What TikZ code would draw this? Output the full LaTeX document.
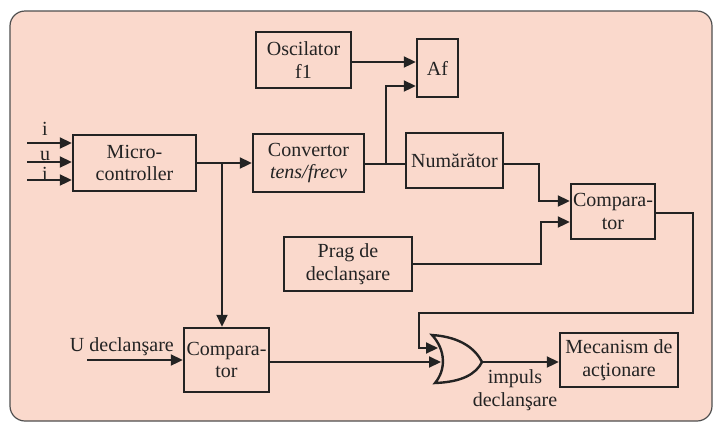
\documentclass[tikz,border=0pt]{standalone}
\usepackage{fontspec}
\setmainfont{Liberation Serif}
\usetikzlibrary{arrows.meta}
\definecolor{bgfill}{RGB}{250,217,204}
\definecolor{ink}{RGB}{35,35,35}
\begin{document}
\begin{tikzpicture}[x=1pt,y=-1pt,
  blk/.style={draw=ink,line width=2.4pt,fill=bgfill,inner sep=0pt,align=center,
    font=\fontsize{20}{22.5}\selectfont,text=ink},
  lbl/.style={inner sep=0pt,align=center,font=\fontsize{20}{22.5}\selectfont,text=ink},
  wire/.style={draw=ink,line width=2pt},
  arr/.style={wire,-{Triangle[length=12pt,width=11pt]}}]
\useasboundingbox (0,0) rectangle (719,424);
\draw[draw=ink!80,line width=1.2pt,fill=bgfill,rounded corners=15pt] (10,11) rectangle (712,421);
% blocks
\node[blk,minimum width=123pt,minimum height=56pt] (micro) at (134.5,163) {Micro-\\controller};
\node[blk,minimum width=111pt,minimum height=58pt] (conv) at (308.5,163) {Convertor\\\textit{tens/frecv}};
\node[blk,minimum width=95pt,minimum height=56pt] (osc) at (303.5,60) {Oscilator\\f1};
\node[blk,minimum width=41pt,minimum height=58pt] (af) at (437.5,68) {Af};
\node[blk,minimum width=97pt,minimum height=55pt] (num) at (454.5,160.5) {Numărător};
\node[blk,minimum width=84pt,minimum height=55pt] (compa) at (613,211.5) {Compara-\\tor};
\node[blk,minimum width=128pt,minimum height=54pt] (prag) at (348,264) {Prag de\\declanşare};
\node[blk,minimum width=85pt,minimum height=64pt] (compb) at (226.5,360) {Compara-\\tor};
\node[blk,minimum width=118pt,minimum height=54pt] (mec) at (619,360) {Mecanism de\\acţionare};
% OR gate
\draw[draw=ink,line width=2.4pt,fill=bgfill]
  (432,335) .. controls (446,350) and (446,370) .. (435,383)
  .. controls (462,382) and (476,374) .. (482,362)
  .. controls (476,350) and (462,337) .. (432,335) -- cycle;
\coordinate (orout) at (482,362);
\coordinate (orin1) at (438,348);
\coordinate (orin2) at (441,362);
% input labels and arrows
\coordinate (ia) at (27,143);
\coordinate (ib) at (27,162);
\coordinate (ic) at (27,180);
\node[lbl] (li) at (45,129) {i};
\node[lbl] (lu) at (45,156) {u};
\node[lbl] (lj) at (45,174) {i};
\draw[arr] (ia) -- (ia -| micro.west);
\draw[arr] (ib) -- (ib -| micro.west);
\draw[arr] (ic) -- (ic -| micro.west);
% micro -> convertor, branch down to comparator 2
\coordinate (br1) at (222,163);
\draw[arr] (micro.east) -- (conv.west);
\draw[arr] (br1) -- (br1 |- compb.north);
% convertor -> numarator, branch to Af
\coordinate (y164) at (0,164);
\coordinate (br2) at (386,164);
\draw[wire] (conv.east |- y164) -- (num.west |- y164);
\draw[arr] (br2) -- (386,86) -- (af.west |- {(0,86)});
% oscilator -> Af
\draw[arr] (osc.east |- {(0,62)}) -- (af.west |- {(0,62)});
% numarator -> comparator 1
\draw[arr] (num.east |- y164) -- (539,164) -- (539,201) -- (compa.west |- {(0,201)});
% prag -> comparator 1
\draw[arr] (prag.east) -- (541,264) -- (541,222) -- (compa.west |- {(0,222)});
% comparator 1 -> OR
\draw[arr] (compa.east |- {(0,213)}) -- (693,213) -- (693,313) -- (419,313) -- (419,348) -- (orin1);
% U declansare -> comparator 2
\coordinate (ud) at (87,360);
\node[lbl,anchor=south east] (lud) at (174,356) {U declanşare};
\draw[arr] (ud) -- (compb.west |- ud);
% comparator 2 -> OR
\draw[arr] (compb.east |- orin2) -- (orin2);
% OR -> mecanism
\draw[arr] (orout) -- (mec.west |- orout);
\node[lbl] (imp) at (515,390) {impuls\\declanşare};
\end{tikzpicture}
\end{document}
